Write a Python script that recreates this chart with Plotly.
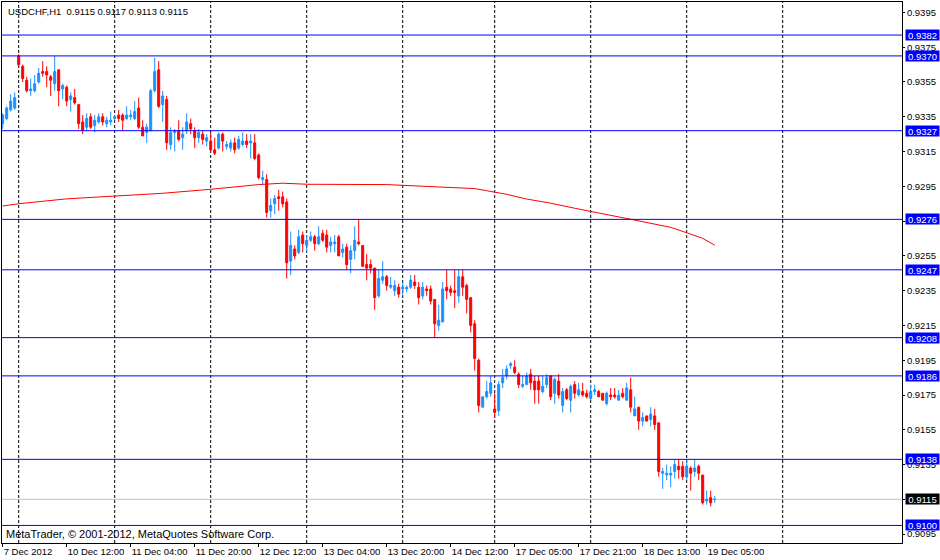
import pandas as pd
import plotly.graph_objects as go

# USDCHF H1 bars (7 Dec 2012 20:00 .. 19 Dec 2012 07:00)
opens = [
    0.9331, 0.9334, 0.9339, 0.9340, 0.9370, 0.9364, 0.9356, 0.9350, 0.9350, 0.9355,
    0.9361, 0.9361, 0.9358, 0.9354, 0.9362, 0.9351, 0.9352, 0.9345, 0.9346, 0.9342,
    0.9332, 0.9329, 0.9335, 0.9330, 0.9332, 0.9335, 0.9331, 0.9332, 0.9334, 0.9336,
    0.9336, 0.9334, 0.9335, 0.9334, 0.9340, 0.9329, 0.9326, 0.9327, 0.9350, 0.9362,
    0.9342, 0.9345, 0.9319, 0.9326, 0.9327, 0.9323, 0.9327, 0.9331, 0.9327, 0.9323,
    0.9325, 0.9321, 0.9321, 0.9316, 0.9317, 0.9325, 0.9318, 0.9317, 0.9320, 0.9317,
    0.9319, 0.9321, 0.9320, 0.9320, 0.9313, 0.9299, 0.9299, 0.9281, 0.9285, 0.9289,
    0.9289, 0.9286, 0.9252, 0.9259, 0.9257, 0.9267, 0.9261, 0.9264, 0.9266, 0.9262,
    0.9268, 0.9267, 0.9261, 0.9262, 0.9266, 0.9257, 0.9260, 0.9253, 0.9258, 0.9263,
    0.9261, 0.9250, 0.9250, 0.9248, 0.9232, 0.9241, 0.9243, 0.9237, 0.9235, 0.9237,
    0.9236, 0.9236, 0.9237, 0.9240, 0.9237, 0.9232, 0.9236, 0.9236, 0.9230, 0.9215,
    0.9217, 0.9237, 0.9236, 0.9235, 0.9232, 0.9243, 0.9238, 0.9231, 0.9216, 0.9195,
    0.9168, 0.9174, 0.9176, 0.9167, 0.9166, 0.9182, 0.9186, 0.9192, 0.9191, 0.9187,
    0.9180, 0.9181, 0.9187, 0.9183, 0.9183, 0.9177, 0.9181, 0.9186, 0.9176, 0.9183,
    0.9169, 0.9178, 0.9172, 0.9181, 0.9175, 0.9177, 0.9176, 0.9173, 0.9177, 0.9177,
    0.9176, 0.9170, 0.9175, 0.9175, 0.9172, 0.9176, 0.9172, 0.9178, 0.9163, 0.9168,
    0.9160, 0.9163, 0.9161, 0.9163, 0.9159, 0.9130, 0.9129, 0.9129, 0.9131, 0.9134,
    0.9134, 0.9128, 0.9133, 0.9131, 0.9134, 0.9129, 0.9114, 0.9116, 0.9115,
]
highs = [
    0.9337, 0.9341, 0.9348, 0.9349, 0.9371, 0.9365, 0.9358, 0.9357, 0.9359, 0.9363,
    0.9367, 0.9364, 0.9359, 0.9370, 0.9362, 0.9354, 0.9353, 0.9349, 0.9351, 0.9342,
    0.9336, 0.9337, 0.9337, 0.9336, 0.9337, 0.9337, 0.9335, 0.9338, 0.9336, 0.9339,
    0.9337, 0.9341, 0.9339, 0.9344, 0.9346, 0.9333, 0.9331, 0.9351, 0.9369, 0.9367,
    0.9350, 0.9347, 0.9329, 0.9328, 0.9333, 0.9329, 0.9337, 0.9334, 0.9329, 0.9328,
    0.9327, 0.9325, 0.9326, 0.9323, 0.9326, 0.9326, 0.9321, 0.9322, 0.9323, 0.9324,
    0.9326, 0.9325, 0.9325, 0.9325, 0.9314, 0.9304, 0.9302, 0.9288, 0.9290, 0.9293,
    0.9292, 0.9288, 0.9269, 0.9261, 0.9270, 0.9269, 0.9267, 0.9269, 0.9267, 0.9272,
    0.9270, 0.9270, 0.9266, 0.9267, 0.9267, 0.9262, 0.9262, 0.9261, 0.9272, 0.9276,
    0.9261, 0.9256, 0.9253, 0.9248, 0.9247, 0.9252, 0.9244, 0.9243, 0.9241, 0.9239,
    0.9240, 0.9238, 0.9244, 0.9244, 0.9240, 0.9240, 0.9238, 0.9238, 0.9230, 0.9227,
    0.9240, 0.9247, 0.9238, 0.9247, 0.9247, 0.9247, 0.9239, 0.9231, 0.9218, 0.9196,
    0.9174, 0.9183, 0.9186, 0.9176, 0.9183, 0.9190, 0.9192, 0.9194, 0.9195, 0.9188,
    0.9186, 0.9188, 0.9190, 0.9186, 0.9186, 0.9186, 0.9187, 0.9186, 0.9185, 0.9187,
    0.9179, 0.9179, 0.9181, 0.9183, 0.9182, 0.9182, 0.9178, 0.9181, 0.9181, 0.9178,
    0.9176, 0.9177, 0.9179, 0.9179, 0.9178, 0.9179, 0.9182, 0.9185, 0.9174, 0.9168,
    0.9165, 0.9163, 0.9168, 0.9167, 0.9159, 0.9133, 0.9135, 0.9134, 0.9138, 0.9138,
    0.9137, 0.9138, 0.9134, 0.9138, 0.9135, 0.9129, 0.9120, 0.9120, 0.9117,
]
lows = [
    0.9328, 0.9333, 0.9338, 0.9339, 0.9364, 0.9355, 0.9349, 0.9347, 0.9349, 0.9354,
    0.9358, 0.9352, 0.9347, 0.9350, 0.9341, 0.9345, 0.9341, 0.9338, 0.9342, 0.9328,
    0.9325, 0.9327, 0.9328, 0.9326, 0.9331, 0.9330, 0.9329, 0.9330, 0.9333, 0.9332,
    0.9327, 0.9333, 0.9333, 0.9333, 0.9328, 0.9324, 0.9320, 0.9327, 0.9349, 0.9340,
    0.9332, 0.9316, 0.9316, 0.9315, 0.9321, 0.9316, 0.9325, 0.9325, 0.9317, 0.9320,
    0.9319, 0.9318, 0.9315, 0.9313, 0.9316, 0.9315, 0.9316, 0.9315, 0.9314, 0.9316,
    0.9318, 0.9317, 0.9311, 0.9310, 0.9299, 0.9296, 0.9277, 0.9277, 0.9279, 0.9281,
    0.9283, 0.9242, 0.9244, 0.9253, 0.9256, 0.9257, 0.9257, 0.9263, 0.9258, 0.9261,
    0.9263, 0.9257, 0.9257, 0.9257, 0.9255, 0.9254, 0.9247, 0.9245, 0.9253, 0.9261,
    0.9249, 0.9241, 0.9245, 0.9224, 0.9231, 0.9239, 0.9235, 0.9236, 0.9232, 0.9231,
    0.9232, 0.9234, 0.9236, 0.9236, 0.9227, 0.9230, 0.9232, 0.9227, 0.9208, 0.9212,
    0.9217, 0.9230, 0.9232, 0.9225, 0.9228, 0.9232, 0.9222, 0.9211, 0.9189, 0.9165,
    0.9168, 0.9173, 0.9174, 0.9162, 0.9163, 0.9179, 0.9184, 0.9190, 0.9187, 0.9179,
    0.9179, 0.9181, 0.9178, 0.9170, 0.9170, 0.9176, 0.9179, 0.9172, 0.9170, 0.9173,
    0.9165, 0.9172, 0.9165, 0.9173, 0.9174, 0.9174, 0.9173, 0.9172, 0.9175, 0.9174,
    0.9172, 0.9169, 0.9172, 0.9173, 0.9172, 0.9173, 0.9172, 0.9165, 0.9163, 0.9155,
    0.9157, 0.9160, 0.9157, 0.9155, 0.9128, 0.9121, 0.9126, 0.9122, 0.9127, 0.9127,
    0.9126, 0.9126, 0.9120, 0.9128, 0.9126, 0.9112, 0.9112, 0.9111, 0.9113,
]
closes = [
    0.9336, 0.9340, 0.9344, 0.9346, 0.9365, 0.9357, 0.9350, 0.9351, 0.9354, 0.9360,
    0.9360, 0.9359, 0.9356, 0.9361, 0.9350, 0.9353, 0.9344, 0.9347, 0.9343, 0.9331,
    0.9327, 0.9334, 0.9329, 0.9333, 0.9335, 0.9332, 0.9333, 0.9333, 0.9335, 0.9334,
    0.9333, 0.9336, 0.9336, 0.9338, 0.9329, 0.9324, 0.9329, 0.9350, 0.9361, 0.9341,
    0.9347, 0.9320, 0.9326, 0.9327, 0.9322, 0.9325, 0.9332, 0.9328, 0.9323, 0.9326,
    0.9322, 0.9323, 0.9316, 0.9314, 0.9325, 0.9321, 0.9319, 0.9320, 0.9316, 0.9322,
    0.9321, 0.9319, 0.9321, 0.9311, 0.9300, 0.9300, 0.9280, 0.9284, 0.9288, 0.9288,
    0.9285, 0.9251, 0.9261, 0.9255, 0.9266, 0.9262, 0.9264, 0.9266, 0.9262, 0.9266,
    0.9264, 0.9260, 0.9263, 0.9263, 0.9255, 0.9259, 0.9250, 0.9258, 0.9264, 0.9262,
    0.9249, 0.9248, 0.9248, 0.9231, 0.9242, 0.9243, 0.9238, 0.9238, 0.9238, 0.9233,
    0.9237, 0.9237, 0.9241, 0.9238, 0.9231, 0.9237, 0.9235, 0.9229, 0.9216, 0.9218,
    0.9236, 0.9235, 0.9234, 0.9234, 0.9243, 0.9237, 0.9230, 0.9215, 0.9196, 0.9169,
    0.9174, 0.9177, 0.9182, 0.9165, 0.9181, 0.9185, 0.9190, 0.9193, 0.9188, 0.9181,
    0.9181, 0.9186, 0.9182, 0.9178, 0.9178, 0.9180, 0.9185, 0.9174, 0.9184, 0.9175,
    0.9177, 0.9173, 0.9180, 0.9176, 0.9178, 0.9175, 0.9174, 0.9177, 0.9178, 0.9174,
    0.9172, 0.9176, 0.9174, 0.9174, 0.9175, 0.9174, 0.9179, 0.9168, 0.9167, 0.9160,
    0.9162, 0.9160, 0.9164, 0.9158, 0.9131, 0.9131, 0.9130, 0.9130, 0.9135, 0.9132,
    0.9128, 0.9134, 0.9130, 0.9133, 0.9130, 0.9113, 0.9115, 0.9113, 0.9115,
]

# hourly bar times, weekends skipped (one hour missing on Friday 14 Dec)
bar_times = (
    list(pd.date_range("2012-12-07 20:00", "2012-12-07 23:00", freq="h"))
    + list(pd.date_range("2012-12-10 00:00", "2012-12-14 22:00", freq="h"))
    + list(pd.date_range("2012-12-17 00:00", "2012-12-19 07:00", freq="h"))
)

ma_bars = [0, 4, 16, 28, 40, 52, 64, 70, 76, 96, 108, 118, 121, 126, 131, 137,
           143, 147, 152, 158, 162, 167, 171, 175, 178]
ma_vals = [0.92837, 0.92850, 0.92878, 0.92893, 0.92910, 0.92933, 0.92960, 0.92968,
           0.92962, 0.92960, 0.92948, 0.92937, 0.92925, 0.92904, 0.92877, 0.92853,
           0.92824, 0.92804, 0.92783, 0.92756, 0.92737, 0.92714, 0.92683, 0.92651,
           0.92612]

# horizontal levels drawn on the chart
levels = [0.9382, 0.9370, 0.9327, 0.9276, 0.9247, 0.9208, 0.9186, 0.9138, 0.9100]
last_price = 0.9115

tick_labels = ["7 Dec 2012", "10 Dec 12:00", "11 Dec 04:00", "11 Dec 20:00",
               "12 Dec 12:00", "13 Dec 04:00", "13 Dec 20:00", "14 Dec 12:00",
               "17 Dec 05:00", "17 Dec 21:00", "18 Dec 13:00", "19 Dec 05:00"]
price_ticks = [0.9095, 0.9115, 0.9135, 0.9155, 0.9175, 0.9195, 0.9215, 0.9235,
               0.9255, 0.9275, 0.9295, 0.9315, 0.9335, 0.9355, 0.9375, 0.9395]

FONT = "Liberation Sans"
BULL = "#1E90FF"
BEAR = "#FF0000"
LEVEL = "#0000FF"

n = len(closes)
bars = list(range(n))
tick_pos = list(range(0, n, 16))
day_starts = [i for i, t in enumerate(bar_times) if t.hour == 0]
day_starts.append(day_starts[-1] + 24)

fig = go.Figure()
fig.add_trace(go.Candlestick(
    x=bars, open=opens, high=highs, low=lows, close=closes,
    increasing=dict(line=dict(color=BULL, width=1), fillcolor=BULL),
    decreasing=dict(line=dict(color=BEAR, width=1), fillcolor=BEAR),
    whiskerwidth=0,
))
fig.add_trace(go.Scatter(x=ma_bars, y=ma_vals, mode="lines",
                         line=dict(color=BEAR, width=1)))

for d in day_starts:
    fig.add_shape(type="line", xref="x", yref="paper", x0=d, x1=d, y0=0, y1=1,
                  line=dict(color="black", width=1, dash="3px,2px"), layer="below")

fig.add_shape(type="line", xref="paper", yref="y", x0=0, x1=1,
              y0=last_price, y1=last_price,
              line=dict(color="#C0C0C0", width=1), layer="below")
for lv in levels:
    fig.add_shape(type="line", xref="paper", yref="y", x0=0, x1=1, y0=lv, y1=lv,
                  line=dict(color=LEVEL, width=1), layer="above")
    fig.add_annotation(xref="paper", yref="y", x=1, y=lv, xanchor="left",
                       yanchor="middle", xshift=3, text=f"{lv:.4f}", showarrow=False,
                       bgcolor=LEVEL, font=dict(family=FONT, size=9.5, color="white"),
                       width=33, height=10, borderpad=0, align="center")
fig.add_annotation(xref="paper", yref="y", x=1, y=last_price, xanchor="left",
                   yanchor="middle", xshift=3, text=f"{last_price:.4f}", showarrow=False,
                   bgcolor="black", font=dict(family=FONT, size=9.5, color="white"),
                   width=33, height=10, borderpad=0, align="center")

fig.add_annotation(xref="paper", yref="paper", x=0, y=1, xanchor="left", yanchor="top",
                   xshift=4, yshift=-2, showarrow=False,
                   text="USDCHF,H1  %.4f %.4f %.4f %.4f" % (opens[-1], highs[-1], lows[-1], closes[-1]),
                   font=dict(family=FONT, size=9.5, color="black"))
fig.add_annotation(xref="paper", yref="paper", x=0, y=0, xanchor="left", yanchor="bottom",
                   xshift=2, yshift=1, showarrow=False,
                   text="MetaTrader, © 2001-2012, MetaQuotes Software Corp.",
                   font=dict(family=FONT, size=11, color="black"))

fig.update_layout(
    width=940,
    height=560,
    autosize=False,
    margin=dict(l=2, r=38, t=2, b=17),
    paper_bgcolor="white",
    plot_bgcolor="white",
    showlegend=False,
    boxgap=0.5,
    boxgroupgap=0,
    font=dict(family=FONT, size=9.5, color="black"),
    xaxis=dict(
        range=[-0.175, 224.825],
        rangeslider=dict(visible=False),
        automargin=False,
        showgrid=False,
        zeroline=False,
        showline=True,
        mirror=True,
        linecolor="black",
        linewidth=1,
        ticks="outside",
        ticklen=3,
        tickcolor="black",
        tickvals=tick_pos,
        ticktext=tick_labels,
        tickangle=0,
        ticklabelposition="outside right",
    ),
    yaxis=dict(
        range=[0.90899, 0.94010],
        side="right",
        automargin=False,
        showgrid=False,
        zeroline=False,
        showline=True,
        mirror=True,
        linecolor="black",
        linewidth=1,
        ticks="outside",
        ticklen=2,
        tickcolor="black",
        tickvals=price_ticks,
        tickformat=".4f",
    ),
)

# page body has a default 8px margin; drop it so the chart sits at the window corner
fig.write_html("out.html", config={"displayModeBar": False},
               post_script="document.body.style.margin='0';")
